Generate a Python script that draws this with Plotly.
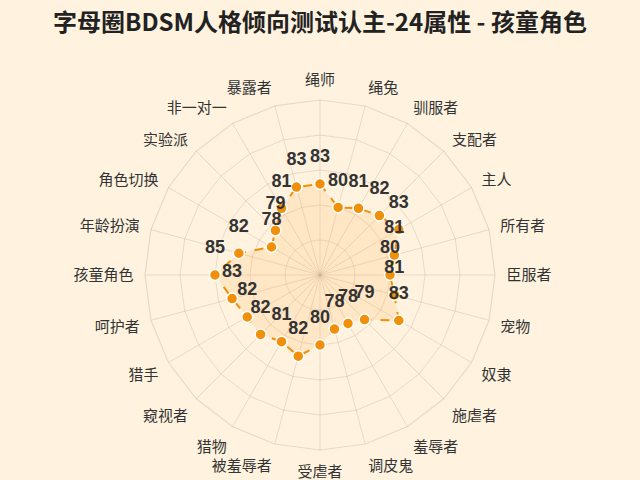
import plotly.graph_objects as go

# categories, clockwise from the top
categories = ["绳师", "绳兔", "驯服者", "支配者", "主人", "所有者", "臣服者",
              "宠物", "奴隶", "施虐者", "羞辱者", "调皮鬼", "受虐者", "被羞辱者",
              "猎物", "窥视者", "猎手", "呵护者", "孩童角色", "年龄扮演",
              "角色切换", "实验派", "非一对一", "暴露者"]
scores = [83, 80, 81, 82, 83, 81, 80, 81, 83, 79, 78, 78, 80, 82,
          81, 82, 82, 83, 85, 82, 78, 79, 81, 83]

orange = "#F0900A"
grid = "rgba(190,170,150,0.35)"

fig = go.Figure()
fig.add_trace(go.Scatterpolar(
    r=scores + scores[:1],
    theta=categories + categories[:1],
    mode="lines+markers",
    line=dict(color=orange, width=2, dash="dash"),
    marker=dict(size=11, color=orange, line=dict(color="white", width=1.5)),
    fill="toself",
    fillcolor="rgba(255,180,90,0.2)",
    hoverinfo="skip",
))
# value labels above each point (invisible marker pushes text up)
fig.add_trace(go.Scatterpolar(
    r=scores,
    theta=categories,
    mode="markers+text",
    marker=dict(size=26, opacity=0),
    text=[str(v) for v in scores],
    textposition="top center",
    textfont=dict(family="Liberation Sans, Arial", size=18, color="#333333",
                  weight="bold"),
    hoverinfo="skip",
))

fig.update_layout(
    width=640, height=480,
    paper_bgcolor="#FFF3E0",
    plot_bgcolor="#FFF3E0",
    showlegend=False,
    margin=dict(l=0, r=0, t=0, b=0),
    title=dict(
        text="字母圈BDSM人格倾向测试认主-24属性 - 孩童角色",
        x=0.5, y=0.953, xanchor="center", yanchor="middle",
        font=dict(family="Noto Sans CJK SC", size=24, color="#222222",
                  weight="bold"),
    ),
    polar=dict(
        domain=dict(x=[145 / 640, 495 / 640], y=[30 / 480, 380 / 480]),
        bgcolor="#FFF3E0",
        gridshape="linear",
        radialaxis=dict(
            range=[70, 95], dtick=5, showticklabels=False, ticks="",
            showline=False, gridcolor=grid, gridwidth=1.2,
        ),
        angularaxis=dict(
            direction="clockwise", rotation=90,
            gridcolor=grid, gridwidth=1.2,
            linecolor=grid, linewidth=1.2,
            ticks="outside", ticklen=8, tickcolor="rgba(0,0,0,0)",
            tickfont=dict(family="Noto Sans CJK SC", size=15, color="#333333"),
        ),
    ),
)

fig.write_html("out.html", config={"displayModeBar": False},
               post_script="document.body.style.margin='0';")
